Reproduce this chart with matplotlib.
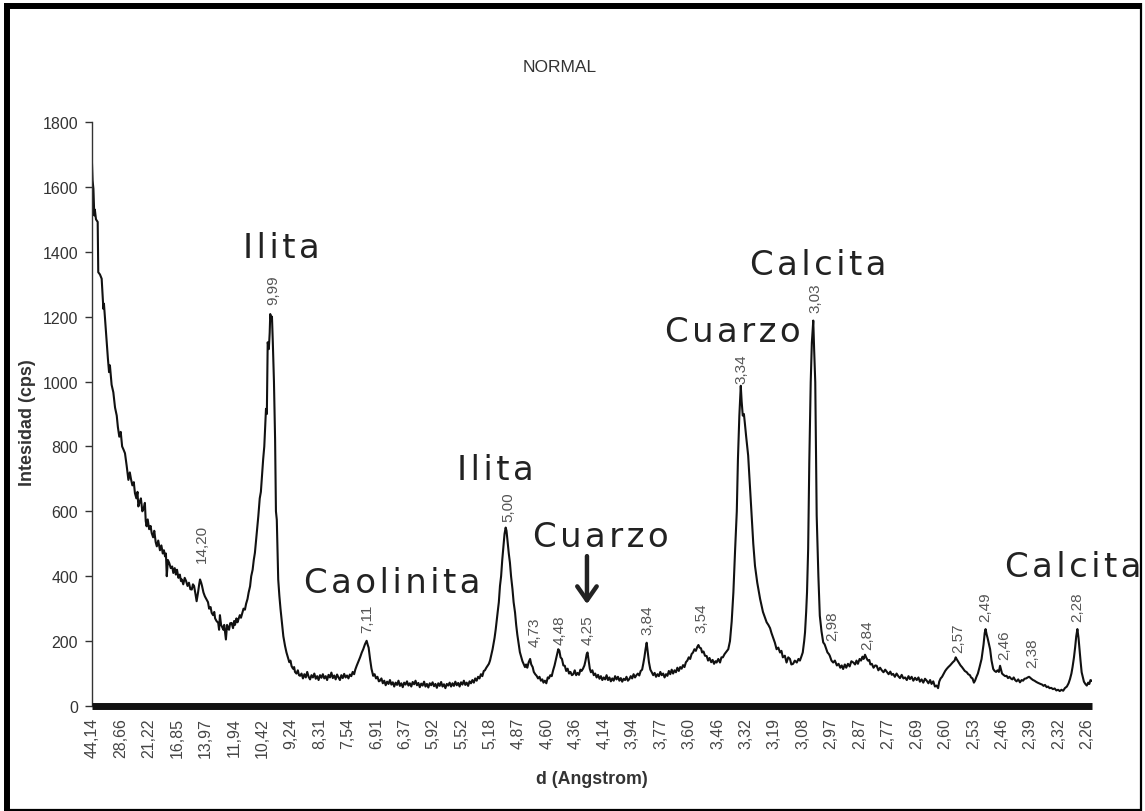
import numpy as np
import matplotlib
matplotlib.use("Agg")
import matplotlib.pyplot as plt
from matplotlib.lines import Line2D

plt.rcParams["font.family"] = ["Liberation Sans", "DejaVu Sans"]

# x-axis categories: d spacing (Angstrom), one per tick, equally spaced in 2-theta
d_ticks = ["44,14", "28,66", "21,22", "16,85", "13,97", "11,94", "10,42", "9,24",
           "8,31", "7,54", "6,91", "6,37", "5,92", "5,52", "5,18", "4,87", "4,60",
           "4,36", "4,14", "3,94", "3,77", "3,60", "3,46", "3,32", "3,19", "3,08",
           "2,97", "2,87", "2,77", "2,69", "2,60", "2,53", "2,46", "2,39", "2,32",
           "2,26"]
y_ticks = [0, 200, 400, 600, 800, 1000, 1200, 1400, 1600, 1800]

# scan: (position in tick units, intensity cps)
scan_low = [
    (0.00, 1671), (0.02, 1620), (0.05, 1594), (0.08, 1512), (0.10, 1530), (0.14, 1500),
    (0.20, 1492), (0.22, 1337), (0.28, 1330), (0.34, 1317), (0.40, 1224), (0.42, 1240),
    (0.47, 1180), (0.52, 1121), (0.56, 1070), (0.60, 1029), (0.63, 1050), (0.69, 990),
    (0.75, 967), (0.81, 920), (0.87, 895), (0.91, 860), (0.96, 830), (1.01, 845),
    (1.06, 800), (1.11, 790), (1.16, 779), (1.22, 740), (1.28, 697), (1.33, 720),
    (1.37, 700), (1.42, 680), (1.47, 690), (1.51, 656), (1.56, 640), (1.60, 660),
    (1.63, 615), (1.68, 630), (1.72, 640), (1.77, 600), (1.82, 610), (1.86, 626),
    (1.89, 570), (1.92, 554), (1.96, 575), (2.01, 545), (2.06, 555), (2.10, 533),
    (2.15, 520), (2.19, 540), (2.24, 505), (2.28, 492), (2.33, 510), (2.39, 480),
    (2.44, 495), (2.49, 470), (2.53, 480), (2.57, 461), (2.60, 470), (2.63, 400),
    (2.67, 450), (2.72, 440), (2.77, 425), (2.82, 430), (2.86, 410), (2.91, 425),
    (2.95, 405), (2.99, 420), (3.04, 395), (3.09, 405), (3.13, 385), (3.16, 390),
    (3.21, 375), (3.26, 395), (3.31, 385), (3.36, 370), (3.41, 380), (3.46, 360),
    (3.51, 359), (3.55, 375), (3.59, 370), (3.64, 345), (3.68, 323), (3.73, 350),
    (3.77, 375), (3.80, 390), (3.84, 380), (3.87, 370), (3.92, 350), (3.97, 338),
    (4.02, 330), (4.08, 320), (4.12, 300), (4.17, 305), (4.21, 287), (4.26, 280),
    (4.30, 290), (4.33, 270), (4.38, 262), (4.44, 256), (4.47, 235), (4.50, 280),
    (4.54, 250), (4.57, 245), (4.62, 235), (4.65, 250), (4.68, 226), (4.71, 205),
    (4.75, 250), (4.79, 240), (4.82, 235), (4.86, 255), (4.91, 256), (4.96, 240),
    (5.00, 262), (5.03, 250), (5.08, 270), (5.12, 258), (5.15, 267), (5.20, 280),
    (5.24, 272), (5.28, 285), (5.33, 300), (5.38, 297), (5.42, 315), (5.47, 330),
    (5.51, 350), (5.56, 369), (5.60, 400), (5.65, 420), (5.69, 450), (5.73, 472),
    (5.78, 520), (5.82, 560), (5.85, 585), (5.90, 640), (5.94, 660), (5.97, 697),
    (6.02, 760), (6.06, 800), (6.09, 860), (6.12, 916), (6.15, 900), (6.18, 1121),
    (6.22, 1100), (6.25, 1150), (6.27, 1208), (6.30, 1190), (6.33, 1200), (6.36, 1121),
    (6.40, 1000), (6.44, 823), (6.47, 600), (6.50, 574), (6.55, 390), (6.59, 340),
    (6.63, 300), (6.67, 267), (6.73, 215), (6.79, 185), (6.84, 165), (6.89, 150),
    (6.94, 135), (6.98, 140), (7.02, 123), (7.07, 115), (7.11, 120), (7.14, 105),
    (7.19, 100), (7.24, 110), (7.28, 95), (7.32, 93),
]

scan_mid = [
    (7.37, 100), (7.42, 85), (7.47, 98), (7.52, 88), (7.57, 105), (7.62, 90), (7.67, 82),
    (7.72, 95), (7.77, 88), (7.82, 100), (7.87, 84), (7.92, 92), (7.97, 80), (8.02, 95),
    (8.07, 87), (8.12, 98), (8.17, 85), (8.22, 92), (8.27, 80), (8.32, 96), (8.37, 88),
    (8.42, 103), (8.47, 86), (8.52, 94), (8.57, 82), (8.62, 97), (8.67, 88), (8.72, 80),
    (8.77, 95), (8.82, 86), (8.87, 99), (8.92, 88), (8.97, 94), (9.02, 85), (9.07, 97),
    (9.12, 92), (9.17, 105), (9.22, 98), (9.26, 112), (9.31, 124), (9.36, 135),
    (9.43, 150), (9.49, 165), (9.54, 175), (9.60, 190), (9.66, 201), (9.70, 188),
    (9.73, 180), (9.78, 145), (9.83, 115), (9.89, 93), (9.94, 98), (9.99, 85),
    (10.04, 90), (10.09, 76), (10.13, 78), (10.18, 85), (10.23, 70), (10.28, 78),
    (10.33, 64), (10.38, 75), (10.43, 68), (10.48, 80), (10.53, 66), (10.58, 73),
    (10.63, 60), (10.68, 72), (10.73, 65), (10.78, 78), (10.83, 62), (10.88, 70),
    (10.93, 58), (10.98, 72), (11.03, 66), (11.08, 76), (11.13, 63), (11.18, 70),
    (11.23, 60), (11.28, 74), (11.33, 67), (11.38, 78), (11.43, 64), (11.48, 71),
    (11.53, 58), (11.58, 69), (11.63, 63), (11.68, 75), (11.73, 60), (11.78, 68),
    (11.83, 57), (11.88, 70), (11.93, 64), (11.98, 73), (12.03, 61), (12.08, 68),
    (12.13, 56), (12.18, 70), (12.23, 62), (12.28, 74), (12.33, 60), (12.38, 67),
    (12.43, 55), (12.48, 68), (12.53, 63), (12.58, 72), (12.63, 60), (12.68, 70),
    (12.73, 62), (12.78, 75), (12.83, 64), (12.88, 71), (12.93, 60), (12.98, 73),
    (13.03, 66), (13.08, 78), (13.13, 65), (13.18, 72), (13.23, 62), (13.28, 76),
    (13.33, 70), (13.38, 80), (13.43, 72), (13.48, 85), (13.53, 78), (13.58, 90),
    (13.63, 85), (13.68, 98), (13.73, 92), (13.78, 108), (13.82, 110), (13.87, 118),
    (13.92, 125), (13.96, 130), (14.00, 140), (14.05, 160), (14.09, 175), (14.12, 190),
    (14.16, 210), (14.20, 236), (14.23, 260), (14.27, 290), (14.31, 320), (14.35, 370),
    (14.39, 400), (14.43, 450), (14.47, 490), (14.51, 530), (14.55, 550), (14.58, 540),
    (14.62, 505), (14.66, 470), (14.70, 442), (14.74, 400), (14.79, 360), (14.83, 320),
    (14.88, 288), (14.92, 250), (14.96, 220), (15.01, 190), (15.05, 166), (15.10, 150),
    (15.14, 138), (15.18, 130), (15.23, 120), (15.27, 128), (15.31, 118), (15.36, 135),
    (15.41, 145), (15.45, 128), (15.50, 120), (15.54, 105), (15.59, 98), (15.64, 93),
    (15.69, 85), (15.74, 90), (15.79, 78), (15.84, 82), (15.88, 72), (15.93, 78),
    (15.98, 70), (16.03, 88), (16.07, 85), (16.12, 95), (16.17, 92), (16.22, 110),
    (16.27, 125), (16.31, 140), (16.36, 160), (16.40, 175), (16.44, 170), (16.48, 150),
    (16.53, 145), (16.58, 125), (16.63, 124), (16.68, 108), (16.73, 115), (16.78, 100),
    (16.83, 105), (16.88, 95), (16.93, 98), (16.98, 110), (17.03, 95), (17.08, 102),
    (17.13, 96), (17.18, 112), (17.22, 108), (17.27, 115), (17.32, 125), (17.36, 140),
    (17.40, 160), (17.43, 165), (17.47, 140), (17.51, 115), (17.55, 104), (17.60, 110),
    (17.65, 95), (17.70, 100), (17.75, 88), (17.80, 96), (17.85, 84), (17.90, 92),
    (17.95, 80), (18.00, 88), (18.05, 82), (18.10, 95), (18.15, 80), (18.20, 88),
    (18.25, 76), (18.30, 85), (18.35, 78), (18.40, 92), (18.45, 82), (18.50, 90),
    (18.55, 78), (18.60, 86), (18.65, 75), (18.70, 84), (18.75, 80), (18.80, 90),
    (18.85, 78), (18.90, 83), (18.95, 92), (19.00, 85), (19.05, 98), (19.10, 88),
    (19.15, 95), (19.20, 100), (19.25, 94), (19.30, 108), (19.35, 112), (19.39, 130),
    (19.43, 150), (19.47, 175), (19.51, 195), (19.55, 165), (19.59, 135), (19.64, 112),
    (19.69, 104), (19.74, 95), (19.79, 102), (19.84, 90), (19.89, 98), (19.94, 92),
    (19.99, 105), (20.04, 95), (20.09, 100), (20.14, 88), (20.19, 98), (20.24, 93),
    (20.29, 108), (20.34, 98), (20.39, 112), (20.44, 100), (20.49, 110), (20.54, 104),
    (20.59, 118), (20.64, 108), (20.69, 120), (20.74, 115), (20.79, 126), (20.84, 120),
    (20.89, 135), (20.94, 140), (20.99, 150), (21.04, 145), (21.09, 160), (21.14, 165),
    (21.19, 175), (21.24, 170), (21.29, 182), (21.33, 188), (21.37, 180), (21.42, 178),
    (21.46, 165), (21.51, 168), (21.56, 155), (21.62, 154), (21.67, 140), (21.72, 148),
    (21.78, 135), (21.83, 142), (21.88, 130), (21.93, 138), (21.97, 134), (22.03, 145),
    (22.09, 134), (22.14, 150), (22.19, 150), (22.25, 160), (22.32, 168), (22.38, 175),
]

scan_high = [
    (22.44, 200), (22.50, 260), (22.56, 350), (22.62, 480), (22.68, 600), (22.72, 760),
    (22.77, 895), (22.82, 987), (22.85, 940), (22.89, 895), (22.93, 900), (22.96, 875),
    (23.01, 830), (23.08, 772), (23.14, 680), (23.20, 587), (23.26, 500), (23.32, 432),
    (23.40, 380), (23.50, 330), (23.55, 310), (23.60, 290), (23.66, 275), (23.73, 258),
    (23.79, 250), (23.85, 240), (23.90, 225), (23.96, 210), (24.02, 195), (24.08, 175),
    (24.14, 180), (24.20, 165), (24.25, 170), (24.30, 150), (24.37, 155), (24.43, 134),
    (24.49, 150), (24.55, 145), (24.60, 128), (24.66, 130), (24.72, 140), (24.79, 134),
    (24.85, 145), (24.90, 140), (24.95, 152), (25.00, 165), (25.05, 200), (25.08, 227),
    (25.12, 290), (25.15, 350), (25.19, 484), (25.23, 750), (25.28, 998), (25.32, 1120),
    (25.37, 1188), (25.40, 1100), (25.44, 998), (25.49, 587), (25.55, 400), (25.60, 278),
    (25.66, 230), (25.72, 196), (25.77, 190), (25.81, 180), (25.87, 165), (25.92, 160),
    (25.95, 155), (26.01, 140), (26.07, 134), (26.13, 140), (26.20, 125), (26.26, 130),
    (26.32, 118), (26.37, 125), (26.42, 114), (26.48, 128), (26.53, 118), (26.59, 130),
    (26.65, 122), (26.71, 138), (26.78, 134), (26.84, 128), (26.89, 140), (26.94, 130),
    (27.00, 145), (27.05, 140), (27.10, 152), (27.14, 145), (27.19, 158), (27.24, 148),
    (27.29, 140), (27.34, 142), (27.38, 128), (27.43, 130), (27.49, 118), (27.55, 125),
    (27.60, 124), (27.66, 110), (27.72, 118), (27.78, 110), (27.84, 104), (27.90, 112),
    (27.96, 105), (28.02, 98), (28.08, 106), (28.13, 96), (28.18, 99), (28.24, 90),
    (28.30, 100), (28.36, 92), (28.42, 86), (28.48, 96), (28.54, 85), (28.60, 88),
    (28.66, 80), (28.72, 92), (28.77, 83), (28.83, 90), (28.89, 78), (28.95, 87),
    (29.01, 80), (29.07, 88), (29.12, 75), (29.18, 82), (29.24, 72), (29.30, 84),
    (29.36, 78), (29.42, 70), (29.48, 80), (29.53, 68), (29.59, 76), (29.65, 60),
    (29.71, 63), (29.76, 55), (29.80, 75), (29.85, 85), (29.90, 90), (29.95, 98),
    (30.01, 108), (30.06, 114), (30.12, 120), (30.18, 125), (30.23, 130), (30.28, 135),
    (30.34, 140), (30.38, 150), (30.41, 145), (30.46, 138), (30.50, 132), (30.55, 125),
    (30.60, 120), (30.64, 115), (30.70, 108), (30.77, 104), (30.82, 98), (30.88, 95),
    (30.92, 88), (30.97, 85), (31.02, 72), (31.06, 78), (31.11, 90), (31.16, 100),
    (31.22, 120), (31.29, 145), (31.33, 170), (31.36, 190), (31.40, 225), (31.43, 237),
    (31.47, 220), (31.50, 210), (31.55, 190), (31.59, 175), (31.64, 140), (31.70, 114),
    (31.75, 108), (31.80, 105), (31.85, 110), (31.90, 105), (31.94, 124), (31.98, 110),
    (32.01, 100), (32.06, 96), (32.12, 92), (32.17, 93), (32.22, 86), (32.27, 90),
    (32.32, 85), (32.37, 82), (32.42, 88), (32.47, 80), (32.52, 76), (32.58, 82),
    (32.64, 73), (32.70, 80), (32.75, 78), (32.80, 84), (32.86, 85), (32.91, 88),
    (32.96, 90), (32.99, 88), (33.04, 84), (33.10, 80), (33.15, 78), (33.20, 75),
    (33.26, 72), (33.31, 70), (33.36, 68), (33.42, 66), (33.47, 62), (33.52, 65),
    (33.58, 58), (33.63, 60), (33.68, 55), (33.74, 56), (33.80, 52), (33.86, 54),
    (33.92, 48), (33.98, 50), (34.04, 46), (34.10, 50), (34.16, 47), (34.22, 55),
    (34.29, 60), (34.35, 70), (34.40, 83), (34.45, 100), (34.49, 120), (34.54, 150),
    (34.58, 180), (34.62, 215), (34.66, 237), (34.70, 210), (34.73, 180), (34.77, 140),
    (34.81, 104), (34.85, 90), (34.89, 75), (34.94, 68), (34.99, 63), (35.04, 72),
    (35.08, 68), (35.12, 80), (35.16, 78),
]

# peak d-spacing labels: text, position, intensity where the label starts
peak_text = ["14,20", "9,99", "7,11", "5,00", "4,73", "4,48", "4,25", "3,84", "3,54",
             "3,34", "3,03", "2,98", "2,84", "2,57", "2,49", "2,46", "2,38", "2,28"]
peak_pos = [3.86, 6.37, 9.67, 14.63, 15.58, 16.46, 17.45, 19.52, 21.42,
            22.86, 25.43, 26.03, 27.26, 30.46, 31.41, 32.08, 33.06, 34.65]
peak_label_cps = [444, 1239, 228, 570, 185, 191, 191, 222, 228,
                  995, 1215, 203, 176, 166, 262, 145, 120, 262]

# mineral names: text, left position, baseline intensity
mineral_text = ["Ilita", "Ilita", "Caolinita", "Cuarzo", "Cuarzo", "Calcita", "Calcita"]
mineral_pos = [5.31, 12.84, 7.46, 15.51, 20.15, 23.14, 32.11]
mineral_cps = [1384, 700, 351, 493, 1125, 1332, 401]

# arrow marking the 4,25 quartz peak
arrow_pos = 17.41
arrow_from, arrow_to = 462, 314

pos, cps = zip(*(scan_low + scan_mid + scan_high))

W, H = 1145, 812
fig = plt.figure(figsize=(W / 100, H / 100), dpi=100)
ax = fig.add_axes([92 / W, 1 - 707 / H, 1000 / W, 584 / H])

ax.plot(pos, cps, color="#111111", lw=1.5)

ax.set_xlim(0, 1000 / 28.43)
ax.set_ylim(0, 1800)
ax.set_xticks(range(len(d_ticks)))
ax.set_xticklabels(d_ticks, rotation=90, fontsize=11.5, color="#444444")
ax.set_yticks(y_ticks)
ax.set_yticklabels([str(v) for v in y_ticks], fontsize=11.5, color="#333333")
ax.tick_params(axis="x", length=0, pad=8)
ax.tick_params(axis="y", length=5, width=1, color="#333333", pad=5)

for s in ["top", "right"]:
    ax.spines[s].set_visible(False)
ax.spines["left"].set_color("#333333")
ax.spines["left"].set_linewidth(1.0)
ax.spines["bottom"].set_color("#111111")
ax.spines["bottom"].set_linewidth(5)
ax.spines["bottom"].set_capstyle("butt")

for t, x, y in zip(peak_text, peak_pos, peak_label_cps):
    ax.text(x, y, t, rotation=90, ha="center", va="bottom", fontsize=11,
            color="#555555")

hair = "\u200a"
for t, x, y in zip(mineral_text, mineral_pos, mineral_cps):
    ax.text(x, y, hair.join(t), ha="left", va="baseline", fontsize=24.5,
            color="#222222", family=["DejaVu Sans"], clip_on=False)

ax.annotate("", xy=(arrow_pos, arrow_to), xytext=(arrow_pos, arrow_from),
            arrowprops=dict(arrowstyle="->,head_length=0.5,head_width=0.35",
                            lw=3.2, color="#222222", mutation_scale=20,
                            shrinkA=0, shrinkB=0))

fig.text(560 / W, 1 - 68 / H, "NORMAL", ha="center", va="center", fontsize=12.5,
         color="#333333")
fig.text(592 / W, 1 - 780 / H, "d (Angstrom)", ha="center", va="center",
         fontsize=12.8, fontweight="bold", color="#333333")
fig.text(27 / W, 1 - 423 / H, "Intesidad (cps)", ha="center", va="center",
         rotation=90, fontsize=13, fontweight="bold", color="#333333")

# page frame: heavy on top/left, thin on right/bottom
fig.add_artist(Line2D([7 / W, 7 / W], [0, 1 - 4 / H], transform=fig.transFigure,
                      color="black", lw=4.3, solid_capstyle="butt"))
fig.add_artist(Line2D([4 / W, 1142 / W], [1 - 7 / H, 1 - 7 / H],
                      transform=fig.transFigure, color="black", lw=4.3,
                      solid_capstyle="butt"))
fig.add_artist(Line2D([1141 / W, 1141 / W], [0, 1 - 4 / H], transform=fig.transFigure,
                      color="black", lw=1.6, solid_capstyle="butt"))
fig.add_artist(Line2D([4 / W, 1142 / W], [1 - 811 / H, 1 - 811 / H],
                      transform=fig.transFigure, color="black", lw=1.6,
                      solid_capstyle="butt"))

fig.savefig("out.png", dpi=100)
